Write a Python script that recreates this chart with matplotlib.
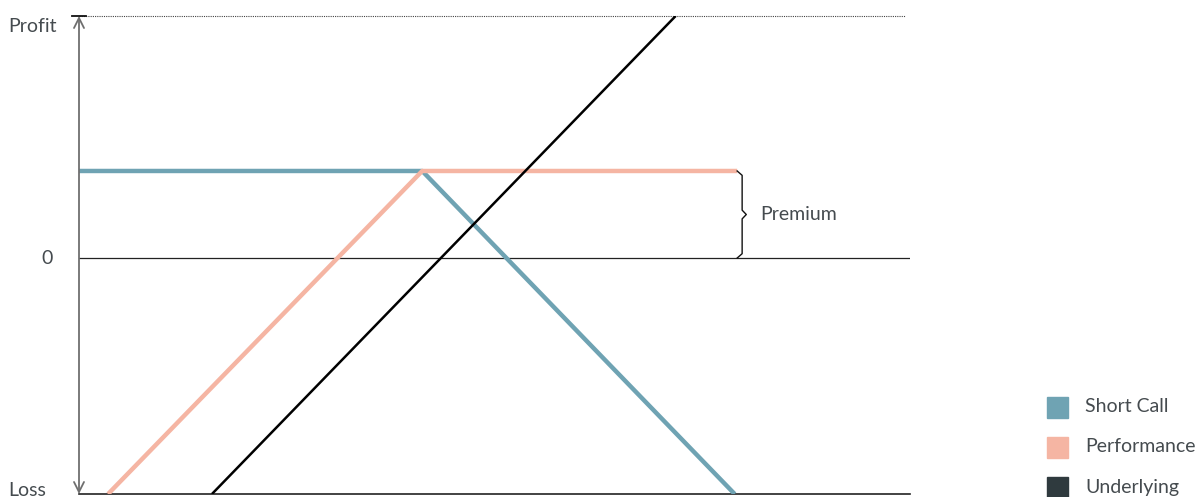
import matplotlib.pyplot as plt
from matplotlib.patches import Rectangle
import numpy as np

plt.rcParams['font.family'] = ['Lato', 'DejaVu Sans']

# payoff diagram data (x: underlying price, y: profit in premium units)
short_call_x = [0, 41.3, 78.9]
short_call_y = [1, 1, -2.71]
perf_x = [3.5, 41.3, 79.2]
perf_y = [-2.71, 1, 1]
under_x = [16.0, 71.8]
under_y = [-2.71, 2.78]

labels = ['Short Call', 'Performance', 'Underlying']
colors = ['#6fa3b3', '#f5b5a3', '#2f3a3e']
text_c = '#454b4f'

fig = plt.figure(figsize=(11.99, 4.97), dpi=100)
ax = fig.add_axes([79/1199, 3/497, 831/1199, 478/497])
ax.set_xlim(0, 100)
ax.set_ylim(-2.71, 2.78)
ax.axis('off')

# axis lines
ax.plot([0, 100], [0, 0], color='#222222', lw=0.9)
ax.plot([0, 100], [-2.71, -2.71], color='#222222', lw=1.2, clip_on=False)
ax.plot([0, 99.4], [2.78, 2.78], color='#444444', lw=0.8, ls=(0, (1, 1)), clip_on=False)
ax.plot([-0.9, 0.9], [2.78, 2.78], color='#111111', lw=1.3, clip_on=False)
ax.annotate('', xy=(0, 2.78), xytext=(0, -2.71),
            arrowprops=dict(arrowstyle='<->', color='#6f6f6f', lw=1.3,
                            mutation_scale=18, shrinkA=0, shrinkB=0))

ax.plot(short_call_x, short_call_y, color=colors[0], lw=3.2, solid_capstyle='butt')
ax.plot(perf_x, perf_y, color=colors[1], lw=3.2, solid_capstyle='butt')
ax.plot(under_x, under_y, color='black', lw=1.8, solid_capstyle='butt')

# premium brace
bx = [79.2, 79.8, 79.8, 80.3, 79.8, 79.8, 79.2]
by = [1.0, 0.95, 0.55, 0.5, 0.45, 0.05, 0.0]
ax.plot(bx, by, color='#111111', lw=1.0, clip_on=False)
ax.text(82.0, 0.5, 'Premium', color=text_c, fontsize=14, va='center', ha='left')

# y labels
fig.text(8/1199, 1 - 27/497, 'Profit', color=text_c, fontsize=14, va='center', ha='left')
fig.text(53/1199, 1 - 258/497, '0', color=text_c, fontsize=14, va='center', ha='right')
fig.text(8/1199, 1 - 490/497, 'Loss', color=text_c, fontsize=14, va='center', ha='left')

# legend
for i, (lab, c) in enumerate(zip(labels, colors)):
    yc = 407 + 40 * i
    fig.patches.append(Rectangle((1047/1199, 1 - (yc + 10.5)/497), 21/1199, 21/497,
                                 transform=fig.transFigure, color=c))
    fig.text(1085/1199, 1 - yc/497, lab, color=text_c, fontsize=14, va='center', ha='left')

fig.savefig('out.png', dpi=100)
